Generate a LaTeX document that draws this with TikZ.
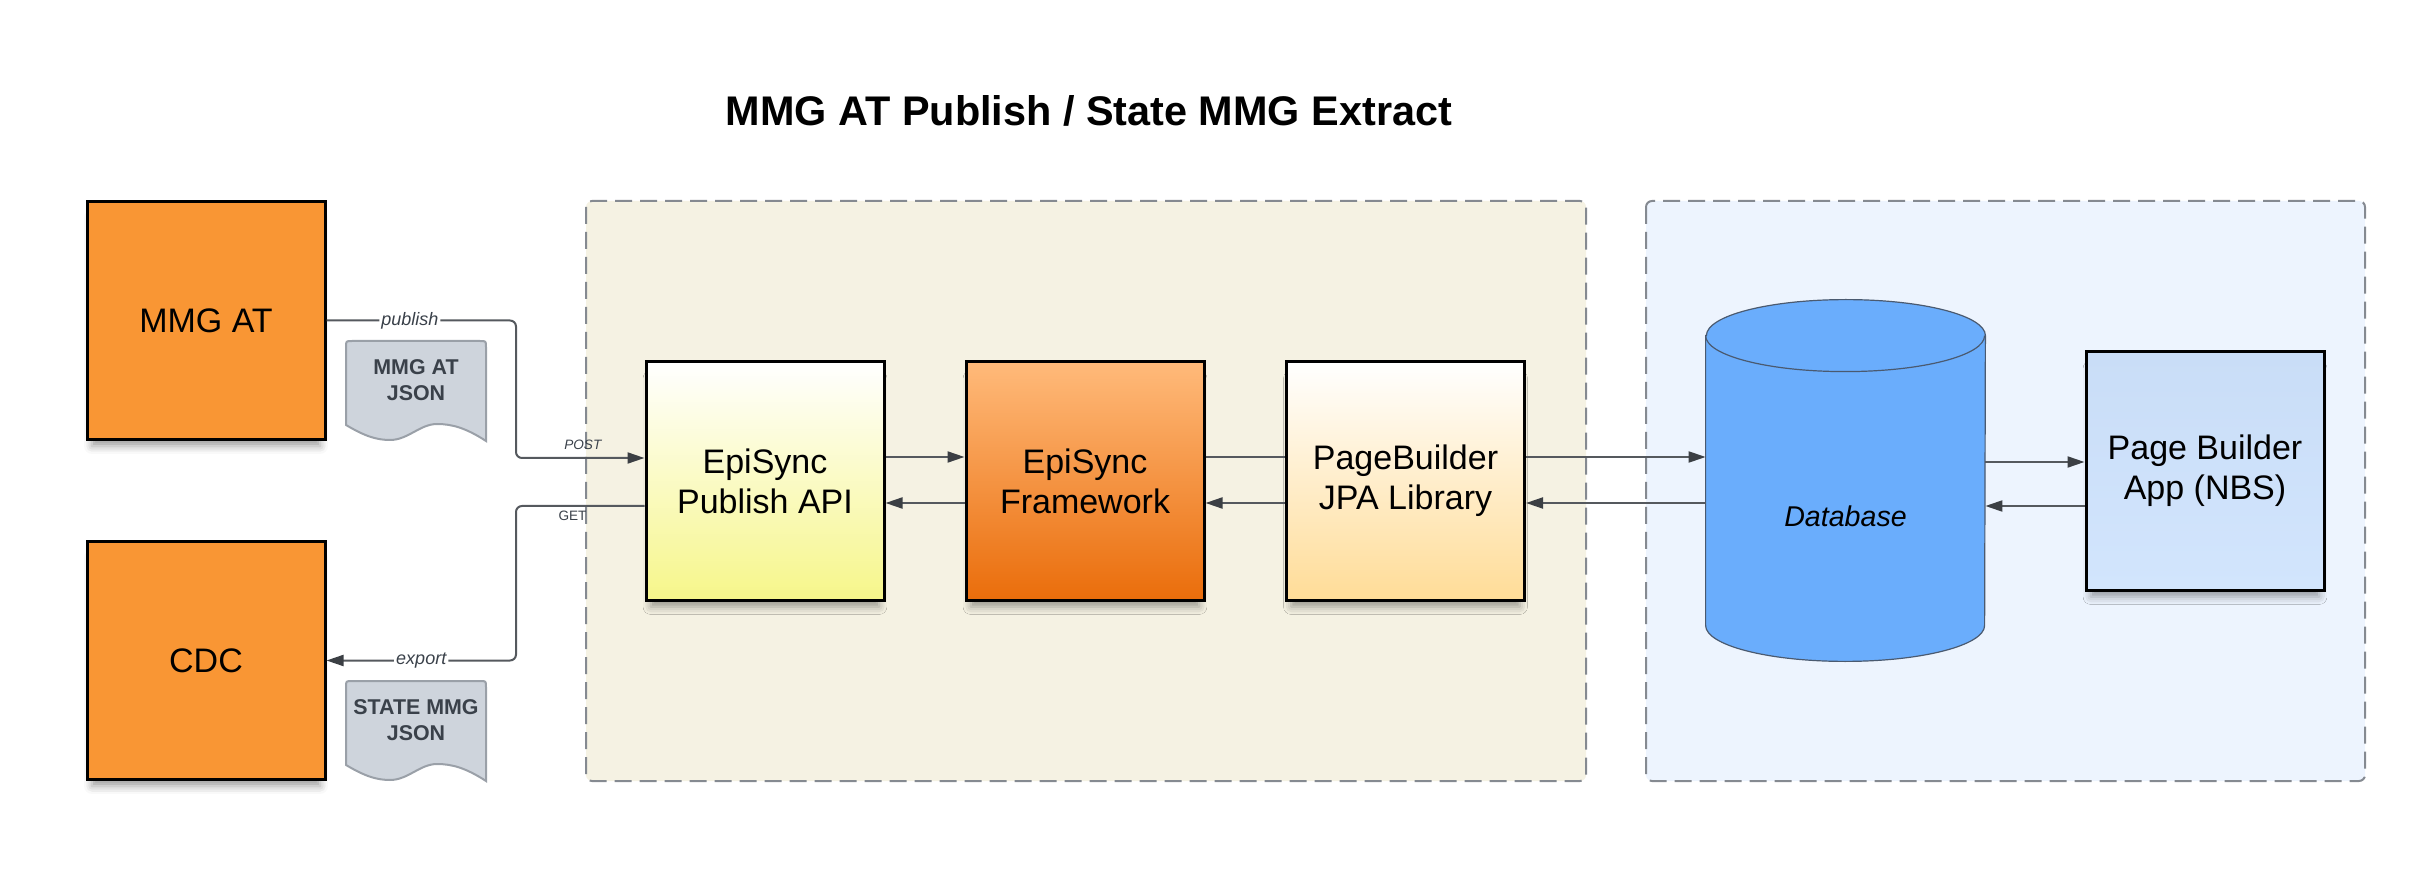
\documentclass[tikz,border=0pt]{standalone}
\usepackage{fontspec}
\setmainfont{Liberation Sans}
\usetikzlibrary{calc,positioning,shadows,shadows.blur}
\usetikzlibrary{arrows.meta}
\tikzset{>={Triangle[width=5.5pt,length=8.5pt]}}

\definecolor{orangebox}{HTML}{F99634}
\definecolor{beigegrp}{HTML}{F5F2E3}
\definecolor{bluegrp}{HTML}{EDF4FE}
\definecolor{grpline}{HTML}{858A91}
\definecolor{conncol}{HTML}{55595E}
\definecolor{tipcol}{HTML}{3B3F44}
\definecolor{docfill}{HTML}{CED4DC}
\definecolor{docline}{HTML}{9AA0A8}
\definecolor{doctext}{HTML}{3A414A}
\definecolor{apiyellow}{HTML}{F6F68A}
\definecolor{fwtop}{HTML}{FFBA7A}
\definecolor{fwbottom}{HTML}{EA6D0B}
\definecolor{pbbottom}{HTML}{FFDC97}
\definecolor{dbblue}{HTML}{6AADFC}
\definecolor{dbline}{HTML}{4A5A70}
\definecolor{apptop}{HTML}{C9DDF7}
\definecolor{appbottom}{HTML}{D2E5FD}

\begin{document}
\begin{tikzpicture}[x=0.5pt,y=-0.5pt]
  \useasboundingbox (0,0) rectangle (2426,871);

  \tikzstyle{grpbox} = [draw=grpline, line width=1pt, dash pattern=on 8.5pt off 4pt, rounded corners=3pt]
  \tikzstyle{bnode} = [draw=black, line width=1.5pt, rectangle, minimum width=119pt, minimum height=119pt, align=center, inner sep=2pt, font=\fontsize{17}{20}\selectfont, blur shadow={shadow xshift=0pt, shadow yshift=-6pt, shadow scale=0.96, shadow blur radius=4pt, shadow opacity=38}]
  \tikzstyle{conn} = [draw=conncol, line width=1pt, arrows={-}, >={Triangle[width=5.5pt,length=8.5pt,color=tipcol]}]
  \tikzstyle{lbl} = [fill=white, inner sep=1pt, text=doctext, font=\fontsize{9}{11}\selectfont\itshape]
  \tikzstyle{slbl} = [inner sep=2pt, text=doctext, font=\fontsize{6.8}{8}\selectfont]
  \tikzstyle{docshape} = [fill=docfill, draw=docline, line width=1pt]
  \tikzstyle{dtext} = [align=center, text=doctext, font=\fontsize{10.7}{13}\selectfont\bfseries]

  % title
  \node[font=\fontsize{20.7}{24}\selectfont\bfseries] (title) at (1089,111) {MMG AT Publish / State MMG Extract};

  % groups
  \draw[grpbox, fill=beigegrp] (586,201) rectangle (1586,781);
  \draw[grpbox, fill=bluegrp] (1646,201) rectangle (2365,781);

  % outside systems
  \node[bnode, fill=orangebox] (mmg) at (206,320.5) {MMG AT};
  \node[bnode, fill=orangebox] (cdc) at (206,660.5) {CDC};

  % json documents
  \foreach \dy in {0,340} {
    \draw[docshape] (346,{425+\dy}) -- (346,{347+\dy}) .. controls (346,{341+\dy}) .. (352,{341+\dy})
      -- (480,{341+\dy}) .. controls (486,{341+\dy}) .. (486,{347+\dy}) -- (486,{441+\dy})
      .. controls (466,{428+\dy}) and (452,{424+\dy}) .. (437,{424+\dy})
      .. controls (420,{424+\dy}) and (408,{440+\dy}) .. (390,{440+\dy})
      .. controls (372,{440+\dy}) and (358,{432+\dy}) .. (346,{425+\dy}) -- cycle;
  }
  \node[dtext] (jmmg) at (416,380) {MMG AT\\JSON};
  \node[dtext] (jstate) at (416,720) {STATE MMG\\JSON};

  % episync boxes
  \node[bnode, top color=white, bottom color=apiyellow] (api) at (765,481) {EpiSync\\Publish API};
  \node[bnode, top color=fwtop, bottom color=fwbottom] (fw) at (1085,481) {EpiSync\\Framework};
  \node[bnode, top color=white, bottom color=pbbottom] (pb) at (1405.5,481) {PageBuilder\\JPA Library};

  % database
  \node[minimum width=139.5pt, minimum height=180.5pt, inner sep=0pt] (db) at (1845.5,480.5) {};
  \draw[fill=dbblue, draw=dbline, line width=0.6pt] ([yshift=-18pt]db.north west) -- ([yshift=18pt]db.south west)
    arc[start angle=180, end angle=360, x radius=69.75pt, y radius=18pt] -- ([yshift=-18pt]db.north east)
    arc[start angle=0, end angle=180, x radius=69.75pt, y radius=18pt] -- cycle;
  \draw[draw=dbline, line width=0.6pt] ([yshift=-18pt]db.north west) arc[start angle=180, end angle=360, x radius=69.75pt, y radius=18pt];
  \node[font=\fontsize{14.3}{17}\selectfont\itshape] (dblabel) at ([yshift=-18pt]db.center) {Database};

  % page builder app
  \node[bnode, top color=apptop, bottom color=appbottom] (app) at (2205,471) {Page Builder\\App (NBS)};

  % publish and export
  \coordinate (jx) at (516,0);
  \draw[conn, ->, rounded corners=3pt] (mmg.east) -- node[lbl, pos=0.44] (lpub) {publish} (mmg.east -| jx)
    |- node[slbl, pos=0.76, anchor=south, yshift=1.5pt] (lpost) {\itshape POST} ([yshift=11.5pt]api.west);
  \draw[conn, ->, rounded corners=3pt] ([yshift=-12.5pt]api.west) -| node[slbl, pos=0.28, anchor=north] (lget) {GET} (jx |- cdc.east)
    -- node[lbl] (lexp) {export} (cdc.east);

  % api <-> framework
  \draw[conn, ->] ([yshift=12pt]api.east) -- ([yshift=12pt]fw.west);
  \draw[conn, ->] ([yshift=-11pt]fw.west) -- ([yshift=-11pt]api.east);

  % framework <-> pagebuilder
  \draw[conn] ([yshift=12pt]fw.east) -- ([yshift=12pt]pb.west);
  \draw[conn, ->] ([yshift=-11pt]pb.west) -- ([yshift=-11pt]fw.east);

  % pagebuilder <-> database
  \draw[conn, ->] ([yshift=12pt]pb.east) -- ([yshift=12pt]pb.east -| db.west);
  \draw[conn, ->] ([yshift=-11pt]pb.east -| db.west) -- ([yshift=-11pt]pb.east);

  % database <-> app
  \draw[conn, ->] ([yshift=4.5pt]app.west -| db.east) -- ([yshift=4.5pt]app.west);
  \draw[conn, ->] ([yshift=-17.5pt]app.west) -- ([yshift=-17.5pt]app.west -| db.east);
\end{tikzpicture}
\end{document}
